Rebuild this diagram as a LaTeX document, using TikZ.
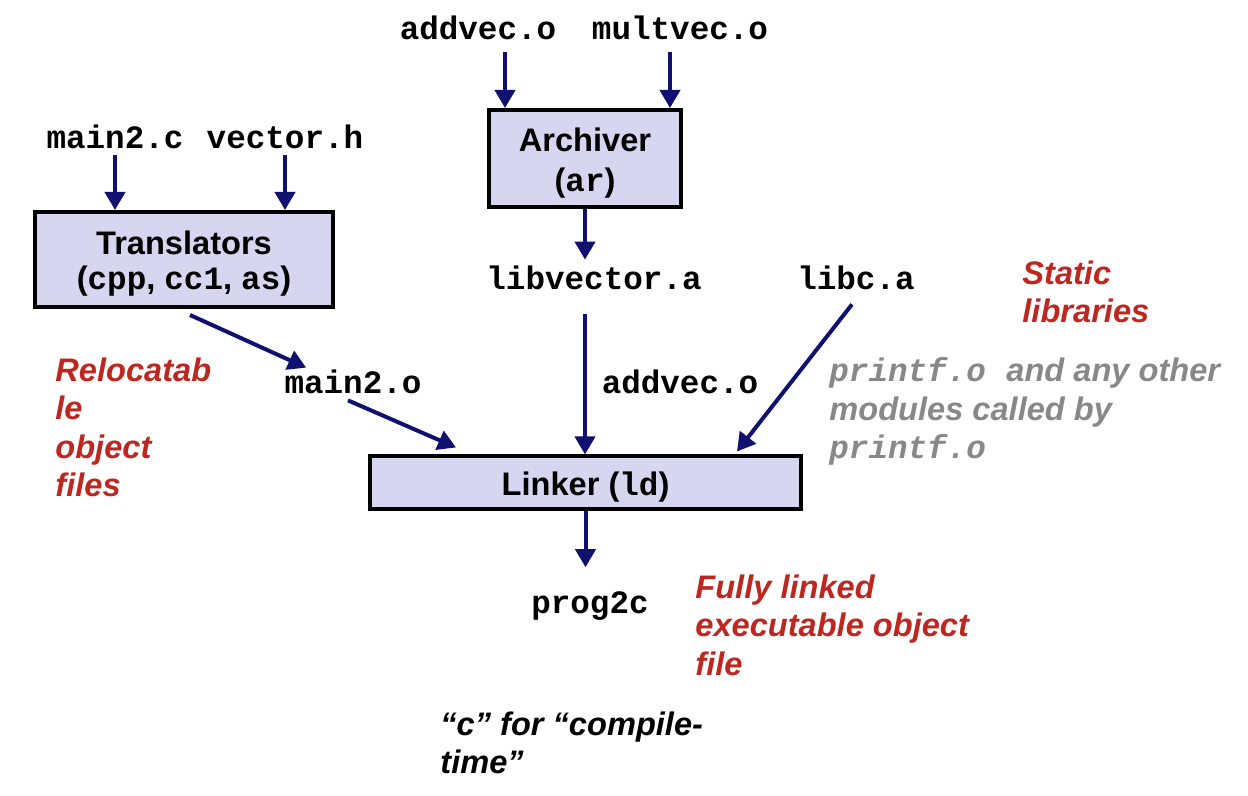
\documentclass[tikz,border=0pt]{standalone}
\usepackage{fontspec}
\setmainfont{Liberation Sans}
\setmonofont{Liberation Mono}
\usetikzlibrary{arrows.meta}

\definecolor{arrblue}{RGB}{16,16,112}
\definecolor{boxfill}{RGB}{214,214,240}
\definecolor{notered}{RGB}{190,38,32}
\definecolor{notegray}{RGB}{136,136,136}

\begin{document}
\begin{tikzpicture}[x=0.5pt, y=-0.5pt,
        every node/.style={font=\fontsize{16.3}{19.3}\selectfont\bfseries},
        box/.style={rectangle, draw, line width=2pt, fill=boxfill, align=center},
        file/.style={font=\fontsize{16.3}{19.3}\selectfont\ttfamily\bfseries, inner sep=3pt},
        note/.style={align=left, anchor=north west, inner sep=0pt, font=\fontsize{16.3}{19.3}\selectfont\bfseries\itshape},
        arr/.style={arrblue, line width=2pt, -{Triangle[length=9pt,width=10pt]}}]
            \useasboundingbox (0,0) rectangle (1248,796);

            % Sorgenti
            \node[file] (addv) at (478,28) {addvec.o};
            \node[file] (multv) at (680,28) {multvec.o};
            \node[file] (mainc) at (115,137) {main2.c};
            \node[file] (vech) at (285,137) {vector.h};

            % Strumenti
            \node[box, minimum width=96pt, minimum height=48.5pt, font=\fontsize{16.3}{20}\selectfont\bfseries] (ar) at (585,158.5) {\rule{0pt}{16pt}Archiver\\(\texttt{ar})};
            \node[box, minimum width=149pt, minimum height=47.5pt, font=\fontsize{16.3}{17.5}\selectfont\bfseries] (tr) at (184,259.5) {\rule{0pt}{16pt}Translators\\(\texttt{cpp}, \texttt{cc1}, \texttt{as})};
            \node[box, minimum width=215.5pt, minimum height=25.5pt] (ld) at (585.5,482.5) {\rule{0pt}{16pt}Linker (\texttt{ld})};

            % File intermedi
            \node[file] (libv) at (594,278) {libvector.a};
            \node[file] (libc) at (856,278) {libc.a};
            \node[file] (maino) at (353,382) {main2.o};
            \node[file] (addo) at (680,382) {addvec.o};
            \node[file] (prog) at (590,606) {prog2c};

            % Note
            \node[note, text=notered] (reloc) at (55,357) {Relocatab\\le\\object\\files};
            \node[note, text=notered] (static) at (1022,260) {Static\\libraries};
            \node[note, text=notegray] (printf) at (829,357) {\texttt{printf.o}\hspace{0.35em} and any other\\modules called by\\\texttt{printf.o}};
            \node[note, text=notered] (full) at (695,574) {Fully linked\\executable object\\file};
            \node[note] (ctime) at (440,711) {“c” for “compile-\\time”};

            % Collegamenti
            \draw[arr] ([xshift=13.5pt,yshift=-3pt]addv.south) -- ([xshift=13.5pt]addv.south |- ar.north);
            \draw[arr] ([xshift=-5pt,yshift=-3pt]multv.south) -- ([xshift=-5pt]multv.south |- ar.north);
            \draw[arr] (mainc.south) -- (mainc.south |- tr.north);
            \draw[arr] (vech.south) -- (vech.south |- tr.north);
            \draw[arr] (ar.south) -- (ar.south |- libv.north);
            \draw[arr] ([xshift=3pt,yshift=-3pt]tr.south) -- ([xshift=14pt,yshift=-2pt]maino.north west);
            \draw[arr] ([xshift=-2.5pt]maino.south) -- ([xshift=44pt,yshift=3.5pt]ld.north west);
            \draw[arr] ([xshift=-4.5pt,yshift=-9pt]libv.south) -- ([xshift=-4.5pt]libv.south |- ld.north);
            \draw[arr] ([xshift=-2pt,yshift=-4pt]libc.south) -- ([xshift=-33pt,yshift=1.5pt]ld.north east);
            \draw[arr] (ld.south) -- ([yshift=9pt]prog.north -| ld.south);
        \end{tikzpicture}
\end{document}
